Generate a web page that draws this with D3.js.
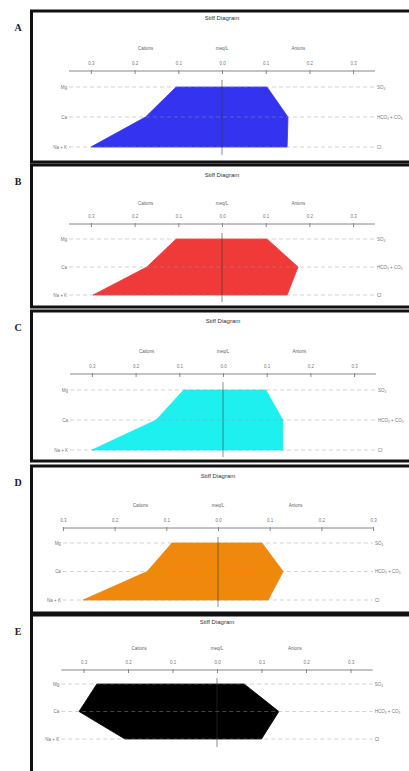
<!DOCTYPE html>
<html>
<head>
<meta charset="utf-8">
<script src="https://cdn.jsdelivr.net/npm/d3@7"></script>
<style>
  html, body { margin: 0; padding: 0; background: #fff; }
  svg { display: block; }
</style>
</head>
<body>
<svg id="chart" width="409" height="771"></svg>
<script>
// Stiff diagrams for five water samples (meq/L)
const panelLetters = ["A", "B", "C", "D", "E"];
const panelColors = ["#3434f0", "#f03a3a", "#1ef0f0", "#f0880e", "#000000"];
const cations = ["Mg", "Ca", "Na + K"];
const anions = ["SO₄", "HCO₃ + CO₃", "Cl"];
const tickValues = [-0.3, -0.2, -0.1, 0.0, 0.1, 0.2, 0.3];
const tickLabels = ["0.3", "0.2", "0.1", "0.0", "0.1", "0.2", "0.3"];
const groupLabels = ["Cations", "meq/L", "Anions"];
const chartTitle = "Stiff Diagram";

// cation values (Mg, Ca, Na+K) per sample
const cationA = [0.105, 0.175, 0.300];
const cationB = [0.105, 0.172, 0.295];
const cationC = [0.090, 0.153, 0.300];
const cationD = [0.089, 0.137, 0.261];
const cationE = [0.270, 0.310, 0.207];
// anion values (SO4, HCO3+CO3, Cl) per sample
const anionA = [0.103, 0.151, 0.149];
const anionB = [0.103, 0.174, 0.149];
const anionC = [0.098, 0.137, 0.137];
const anionD = [0.085, 0.126, 0.097];
const anionE = [0.061, 0.139, 0.100];

const cationSets = [cationA, cationB, cationC, cationD, cationE];
const anionSets = [anionA, anionB, anionC, anionD, anionE];

// panel geometry: ext = half-width of the axis and row lines, grp = heading offset
const layout = [
  { top: 11,  bottom: 162, center: 222, step: 43.7, ext: 0.35, grp: 0.175, title: 20,  group: 50,  tick: 71,  rows: [87, 147],  vline: [80, 155] },
  { top: 165, bottom: 307, center: 222, step: 43.7, ext: 0.35, grp: 0.175, title: 177, group: 205, tick: 224, rows: [239, 295], vline: [233, 302] },
  { top: 311, bottom: 461, center: 223, step: 43.7, ext: 0.35, grp: 0.175, title: 323, group: 353, tick: 374, rows: [390, 450], vline: [382, 457] },
  { top: 466, bottom: 613, center: 218, step: 51.7, ext: 0.30, grp: 0.15,  title: 478, group: 507, tick: 528, rows: [543, 600], vline: [537, 607] },
  { top: 615, bottom: 790, center: 217, step: 44.5, ext: 0.35, grp: 0.175, title: 624, group: 650, tick: 670, rows: [684, 739], vline: [678, 747] }
];

const svg = d3.select("#chart");
const font = "'Liberation Sans', Arial, sans-serif";

panelLetters.forEach((letter, i) => {
  const L = layout[i];
  const g = svg.append("g");

  // frame
  g.append("rect")
    .attr("x", 31.5).attr("y", L.top)
    .attr("width", 400).attr("height", L.bottom - L.top)
    .attr("fill", "#fff").attr("stroke", "#111").attr("stroke-width", 3);

  // panel letter
  svg.append("text")
    .attr("x", 18).attr("y", L.top + 20)
    .attr("text-anchor", "middle")
    .attr("font-family", "'Liberation Serif', serif")
    .attr("font-weight", "bold").attr("font-size", 10)
    .attr("fill", "#222").text(letter);

  const x = d3.scaleLinear()
    .domain([-0.1, 0.1])
    .range([L.center - L.step, L.center + L.step]);
  const y = d3.scalePoint().domain([0, 1, 2]).range(L.rows);

  // title and group headings
  g.append("text")
    .attr("x", L.center).attr("y", L.title)
    .attr("text-anchor", "middle")
    .attr("font-family", font).attr("font-size", 6)
    .attr("fill", "#333").text(chartTitle);

  [-L.grp, 0, L.grp].forEach((v, k) => {
    g.append("text")
      .attr("x", x(v)).attr("y", L.group)
      .attr("text-anchor", "middle")
      .attr("font-family", font).attr("font-size", 4.5)
      .attr("fill", "#666").text(groupLabels[k]);
  });

  // value axis
  const axis = d3.axisTop(x)
    .tickValues(tickValues)
    .tickFormat((d, k) => tickLabels[k])
    .tickSize(2).tickPadding(4);
  const ax = g.append("g")
    .attr("transform", `translate(0,${L.tick})`)
    .call(axis);
  ax.select(".domain").remove();
  ax.insert("line", ":first-child")
    .attr("x1", x(-L.ext)).attr("x2", x(L.ext))
    .attr("y1", 0).attr("y2", 0)
    .attr("stroke", "#888").attr("stroke-width", 1);
  ax.selectAll(".tick line").attr("stroke", "#888").attr("y2", 3).attr("y1", -1);
  ax.selectAll(".tick text")
    .attr("font-family", font).attr("font-size", 4.5)
    .attr("fill", "#777");

  // polygon from the six ion values
  const cv = cationSets[i], av = anionSets[i];
  const pts = cv.map((v, k) => [x(-v), y(k)])
    .concat(av.map((v, k) => [x(v), y(k)]).reverse());
  g.append("path")
    .attr("d", d3.line()(pts) + "Z")
    .attr("fill", panelColors[i])
    .attr("stroke", panelColors[i]).attr("stroke-width", 0.8);

  // dashed ion lines and labels
  cations.forEach((c, k) => {
    g.append("line")
      .attr("x1", x(-L.ext)).attr("x2", x(L.ext))
      .attr("y1", y(k)).attr("y2", y(k))
      .attr("stroke", "#999").attr("stroke-opacity", 0.55)
      .attr("stroke-width", 0.8)
      .attr("stroke-dasharray", "4,3");
    g.append("text")
      .attr("x", x(-L.ext) - 2).attr("y", y(k) + 1.5)
      .attr("text-anchor", "end")
      .attr("font-family", font).attr("font-size", 4.5)
      .attr("fill", "#777").text(c);
    g.append("text")
      .attr("x", x(L.ext) + 2).attr("y", y(k) + 1.5)
      .attr("text-anchor", "start")
      .attr("font-family", font).attr("font-size", 4.5)
      .attr("fill", "#777").text(anions[k]);
  });

  // zero line
  g.append("line")
    .attr("x1", x(0)).attr("x2", x(0))
    .attr("y1", L.vline[0]).attr("y2", L.vline[1])
    .attr("stroke", "#333").attr("stroke-opacity", 0.7)
    .attr("stroke-width", 0.8);
});
</script>
</body>
</html>
